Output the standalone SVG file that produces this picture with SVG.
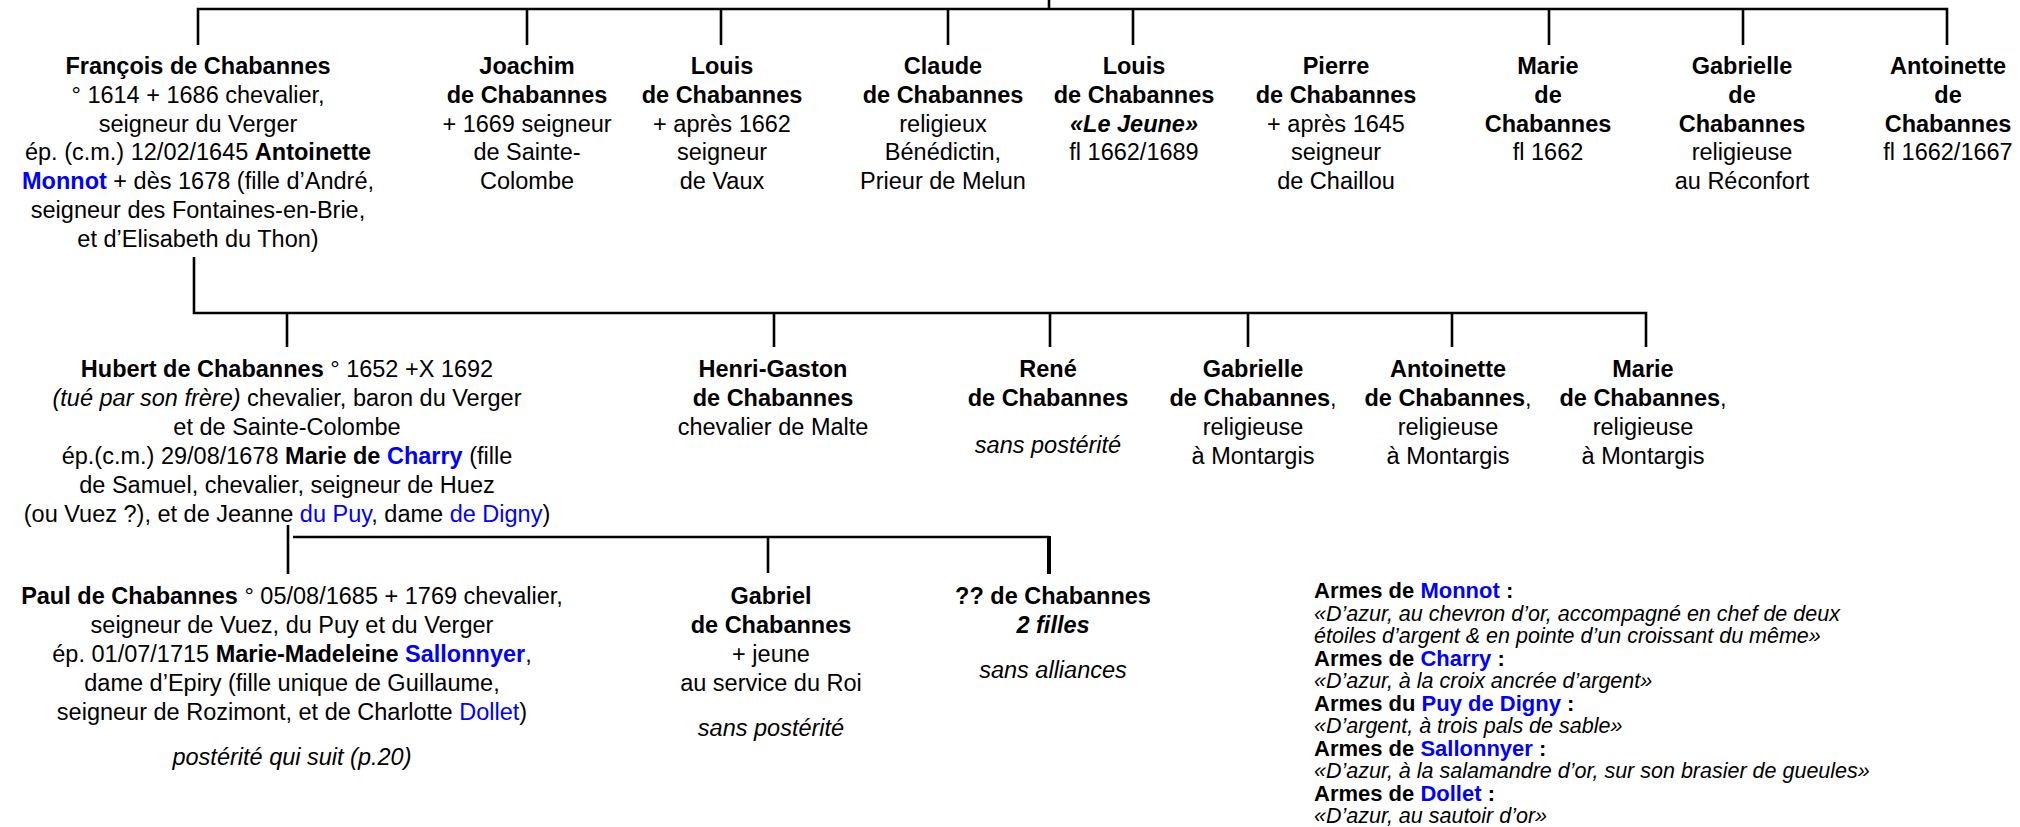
<svg xmlns="http://www.w3.org/2000/svg" width="2020" height="827" viewBox="0 0 2020 827">
<style>
text{font-family:"Liberation Sans",Arial,sans-serif;font-size:23.5px;fill:#000;text-anchor:middle}
.b{font-weight:bold}
.i{font-style:italic}
.bl{fill:#0000ff}
.arm text{font-size:22px;text-anchor:start}
.arm text.i{font-size:21.5px}
.ln{fill:none;stroke:#000;stroke-width:2.6}
</style>
<rect width="2020" height="827" fill="#fff"/>
<g id="connectors">
<path class="ln" d="M1049,0 V9"/>
<path class="ln" d="M198,45 V9 H1947 V45"/>
<path class="ln" d="M527,9 V45 M721,9 V45 M948,9 V45 M1133,9 V45 M1549,9 V45 M1743,9 V45"/>
<path class="ln" d="M194,257 V313 H1646 V347"/>
<path class="ln" d="M287,313 V347 M774,313 V347 M1050,313 V347 M1248,313 V347 M1452,313 V347"/>
<path class="ln" d="M288,525 V574"/>
<path class="ln" d="M293,537 H1049"/>
<path class="ln" d="M768,537 V573"/>
<path fill="none" stroke="#000" stroke-width="4" d="M1049,536 V574"/>
</g>
<g id="n-francois">
<text x="198" y="74" class="b">François de Chabannes</text>
<text x="198" y="102.8">° 1614 + 1686 chevalier,</text>
<text x="198" y="131.6">seigneur du Verger</text>
<text x="198" y="160.4">ép. (c.m.) 12/02/1645 <tspan class="b">Antoinette</tspan></text>
<text x="198" y="189.2"><tspan class="b bl">Monnot</tspan> + dès 1678 (fille d’André,</text>
<text x="198" y="218">seigneur des Fontaines-en-Brie,</text>
<text x="198" y="246.8">et d’Elisabeth du Thon)</text>
</g>
<g id="n-joachim">
<text x="527" y="74" class="b">Joachim</text>
<text x="527" y="102.8" class="b">de Chabannes</text>
<text x="527" y="131.6">+ 1669 seigneur</text>
<text x="527" y="160.4">de Sainte-</text>
<text x="527" y="189.2">Colombe</text>
</g>
<g id="n-louis">
<text x="722" y="74" class="b">Louis</text>
<text x="722" y="102.8" class="b">de Chabannes</text>
<text x="722" y="131.6">+ après 1662</text>
<text x="722" y="160.4">seigneur</text>
<text x="722" y="189.2">de Vaux</text>
</g>
<g id="n-claude">
<text x="943" y="74" class="b">Claude</text>
<text x="943" y="102.8" class="b">de Chabannes</text>
<text x="943" y="131.6">religieux</text>
<text x="943" y="160.4">Bénédictin,</text>
<text x="943" y="189.2">Prieur de Melun</text>
</g>
<g id="n-louis-jeune">
<text x="1134" y="74" class="b">Louis</text>
<text x="1134" y="102.8" class="b">de Chabannes</text>
<text x="1134" y="131.6" class="b i">«Le Jeune»</text>
<text x="1134" y="160.4">fl 1662/1689</text>
</g>
<g id="n-pierre">
<text x="1336" y="74" class="b">Pierre</text>
<text x="1336" y="102.8" class="b">de Chabannes</text>
<text x="1336" y="131.6">+ après 1645</text>
<text x="1336" y="160.4">seigneur</text>
<text x="1336" y="189.2">de Chaillou</text>
</g>
<g id="n-marie1">
<text x="1548" y="74" class="b">Marie</text>
<text x="1548" y="102.8" class="b">de</text>
<text x="1548" y="131.6" class="b">Chabannes</text>
<text x="1548" y="160.4">fl 1662</text>
</g>
<g id="n-gabrielle1">
<text x="1742" y="74" class="b">Gabrielle</text>
<text x="1742" y="102.8" class="b">de</text>
<text x="1742" y="131.6" class="b">Chabannes</text>
<text x="1742" y="160.4">religieuse</text>
<text x="1742" y="189.2">au Réconfort</text>
</g>
<g id="n-antoinette1">
<text x="1948" y="74" class="b">Antoinette</text>
<text x="1948" y="102.8" class="b">de</text>
<text x="1948" y="131.6" class="b">Chabannes</text>
<text x="1948" y="160.4">fl 1662/1667</text>
</g>
<g id="n-hubert">
<text x="287" y="377"><tspan class="b">Hubert de Chabannes</tspan> ° 1652 +X 1692</text>
<text x="287" y="406"><tspan class="i">(tué par son frère)</tspan> chevalier, baron du Verger</text>
<text x="287" y="435">et de Sainte-Colombe</text>
<text x="287" y="464">ép.(c.m.) 29/08/1678 <tspan class="b">Marie de </tspan><tspan class="b bl">Charry</tspan> (fille</text>
<text x="287" y="493">de Samuel, chevalier, seigneur de Huez</text>
<text x="287" y="522">(ou Vuez ?), et de Jeanne <tspan class="bl">du Puy</tspan>, dame <tspan class="bl">de Digny</tspan>)</text>
</g>
<g id="n-henri-gaston">
<text x="773" y="377" class="b">Henri-Gaston</text>
<text x="773" y="406" class="b">de Chabannes</text>
<text x="773" y="435">chevalier de Malte</text>
</g>
<g id="n-rene">
<text x="1048" y="377" class="b">René</text>
<text x="1048" y="406" class="b">de Chabannes</text>
<text x="1048" y="453" class="i">sans  postérité</text>
</g>
<g id="n-gabrielle2">
<text x="1253" y="377" class="b">Gabrielle</text>
<text x="1253" y="406"><tspan class="b">de Chabannes</tspan>,</text>
<text x="1253" y="435">religieuse</text>
<text x="1253" y="464">à Montargis</text>
</g>
<g id="n-antoinette2">
<text x="1448" y="377" class="b">Antoinette</text>
<text x="1448" y="406"><tspan class="b">de Chabannes</tspan>,</text>
<text x="1448" y="435">religieuse</text>
<text x="1448" y="464">à Montargis</text>
</g>
<g id="n-marie2">
<text x="1643" y="377" class="b">Marie</text>
<text x="1643" y="406"><tspan class="b">de Chabannes</tspan>,</text>
<text x="1643" y="435">religieuse</text>
<text x="1643" y="464">à Montargis</text>
</g>
<g id="n-paul">
<text x="292" y="604"><tspan class="b">Paul de Chabannes</tspan> ° 05/08/1685 + 1769 chevalier,</text>
<text x="292" y="633">seigneur de Vuez, du Puy et du Verger</text>
<text x="292" y="662">ép. 01/07/1715 <tspan class="b">Marie-Madeleine </tspan><tspan class="b bl">Sallonnyer</tspan>,</text>
<text x="292" y="691">dame d’Epiry (fille unique de Guillaume,</text>
<text x="292" y="720">seigneur de Rozimont, et de Charlotte <tspan class="bl">Dollet</tspan>)</text>
<text x="292" y="765" class="i">postérité qui suit (p.20)</text>
</g>
<g id="n-gabriel">
<text x="771" y="604" class="b">Gabriel</text>
<text x="771" y="633" class="b">de Chabannes</text>
<text x="771" y="662">+ jeune</text>
<text x="771" y="691">au service du Roi</text>
<text x="771" y="736" class="i">sans  postérité</text>
</g>
<g id="n-filles">
<text x="1053" y="604" class="b">?? de Chabannes</text>
<text x="1053" y="633" class="b i">2 filles</text>
<text x="1053" y="678" class="i">sans  alliances</text>
</g>
<g id="armes" class="arm">
<text x="1314" y="598" class="b">Armes de <tspan class="bl">Monnot</tspan> :</text>
<text x="1314" y="620.5" class="i">«D’azur, au chevron d’or, accompagné en chef de deux</text>
<text x="1314" y="643" class="i">étoiles d’argent &amp; en pointe d’un croissant du même»</text>
<text x="1314" y="665.5" class="b">Armes de <tspan class="bl">Charry</tspan> :</text>
<text x="1314" y="688" class="i">«D’azur, à la croix ancrée d’argent»</text>
<text x="1314" y="710.5" class="b">Armes du <tspan class="bl">Puy de Digny</tspan> :</text>
<text x="1314" y="733" class="i">«D’argent, à trois pals de sable»</text>
<text x="1314" y="755.5" class="b">Armes de <tspan class="bl">Sallonnyer</tspan> :</text>
<text x="1314" y="778" class="i">«D’azur, à la salamandre d’or, sur son brasier de gueules»</text>
<text x="1314" y="800.5" class="b">Armes de <tspan class="bl">Dollet</tspan> :</text>
<text x="1314" y="823" class="i">«D’azur, au sautoir d’or»</text>
</g>
</svg>
